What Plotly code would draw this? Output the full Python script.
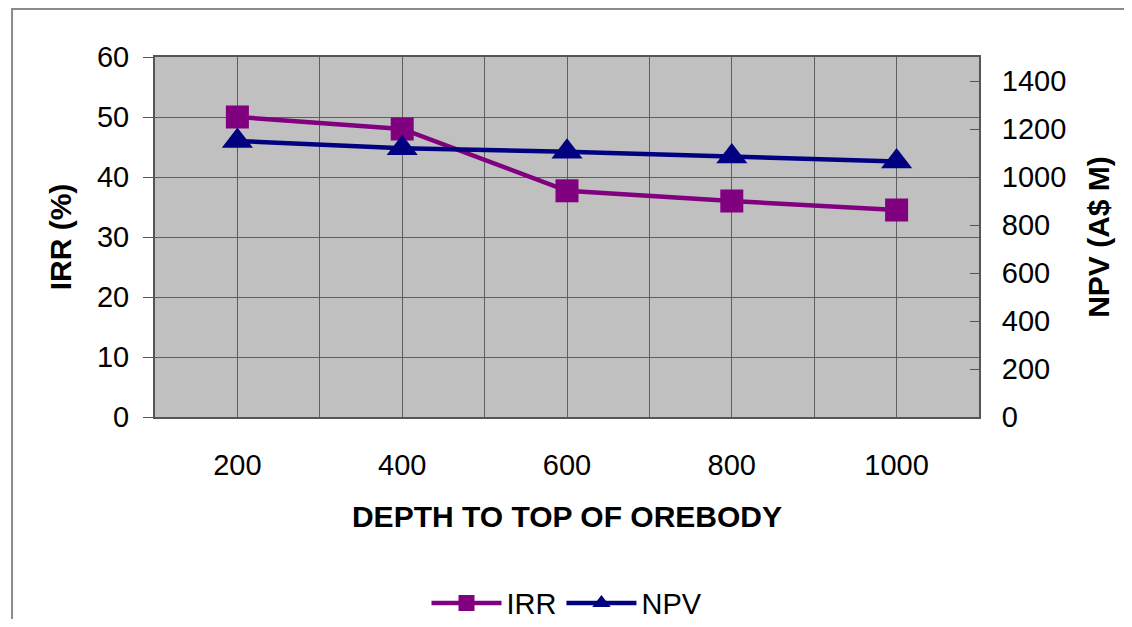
import plotly.graph_objects as go

depth = [200, 400, 600, 800, 1000]
irr = [50, 48, 37.7, 36, 34.5]
npv = [1150, 1120, 1105, 1085, 1065]
x_label_vals = [200, 400, 600, 800, 1000]
y2_ticks = [0, 200, 400, 600, 800, 1000, 1200, 1400]

FONT = "Liberation Sans, Arial, sans-serif"
grid = "#5e5e5e"

fig = go.Figure()
fig.add_trace(go.Scatter(
    x=depth, y=irr, name="IRR", mode="lines+markers",
    line=dict(color="#800080", width=4.5),
    marker=dict(symbol="square", size=23, color="#800080"),
))
fig.add_trace(go.Scatter(
    x=depth, y=npv, name="NPV", mode="lines+markers", yaxis="y2",
    line=dict(color="#000080", width=4.5),
    marker=dict(symbol="triangle-up", size=27, color="#000080"),
))

# outer chart frame (top and left edges visible, rest beyond the page)
fig.add_shape(type="rect", xref="paper", yref="paper",
              x0=-0.1735, x1=1.2, y0=-0.7, y1=1.1333,
              line=dict(color="#8a8a8a", width=2), fillcolor="rgba(0,0,0,0)", layer="below")

fig.update_layout(
    width=1116, height=611,
    margin=dict(l=147, r=145, t=49, b=202, autoexpand=False),
    paper_bgcolor="white", plot_bgcolor="#C0C0C0",
    font=dict(family=FONT, size=29, color="black"),
    showlegend=True,
    legend=dict(orientation="h", x=0.5, xanchor="center", y=-0.517, yanchor="middle",
                font=dict(size=29), itemwidth=70, tracegroupgap=0, borderwidth=0,
                bgcolor="rgba(0,0,0,0)"),
    xaxis=dict(
        range=[100, 1100], tickmode="array",
        tickvals=list(range(100, 1101, 100)),
        ticktext=[str(v) if v in x_label_vals else "" for v in range(100, 1101, 100)],
        showgrid=True, gridcolor=grid, gridwidth=1,
        showline=True, linecolor="#555555", linewidth=2, mirror=True,
        ticks="", ticklabelstandoff=21,
        zeroline=False, automargin=False,
        title=dict(text="<b>DEPTH TO TOP OF OREBODY</b>", font=dict(size=30), standoff=26),
    ),
    yaxis=dict(
        range=[0, 60], dtick=10, tick0=0,
        showgrid=True, gridcolor=grid, gridwidth=1,
        showline=True, linecolor="#555555", linewidth=2,
        ticks="outside", ticklen=10, tickcolor="#555555", ticklabelstandoff=8,
        zeroline=False, automargin=False,
        title=dict(text="<b>IRR (%)</b>", font=dict(size=30), standoff=16),
    ),
    yaxis2=dict(
        range=[0, 1500], overlaying="y", side="right",
        tickmode="array", tickvals=y2_ticks,
        showgrid=False, zeroline=False, automargin=False,
        showline=True, linecolor="#555555", linewidth=2,
        ticks="inside", ticklen=9, tickcolor="#555555", ticklabelstandoff=15,
        title=dict(text="<b>NPV (A$ M)</b>", font=dict(size=30), standoff=23),
    ),
)

fig.write_html("out.html")
